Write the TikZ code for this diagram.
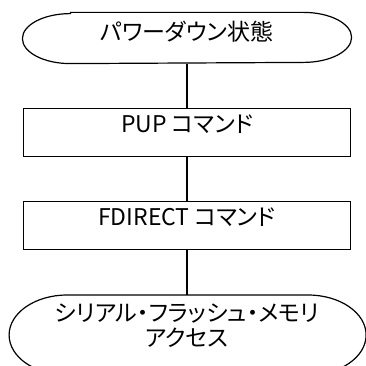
\documentclass[tikz,border=0pt]{standalone}
\usepackage{fontspec}
\setmainfont[RawFeature=+palt]{Noto Sans CJK JP}
\usetikzlibrary{positioning}
\tikzset{
  terminal/.style={rectangle, minimum width=328pt, minimum height=50pt, inner sep=0pt, text height=28pt, text depth=22pt, text centered},
  process/.style={rectangle, minimum width=327pt, minimum height=48pt, inner sep=0pt, text height=24pt, text depth=24pt, text centered, draw=black},
  line/.style={line width=1.2pt}
}

\begin{document}
\begin{tikzpicture}[node distance=44pt, line width=1.2pt, font=\fontsize{23}{25}\selectfont]
\useasboundingbox (0,0) rectangle (366pt,365pt);
\clip (0,0) rectangle (366pt,365pt);
\node (pd) [terminal] at (187pt,327pt) {パワーダウン状態};
\node (pup) [process, below=of pd] {PUP コマンド};
\node (fdir) [process, below=of pup] {FDIRECT コマンド};
\node (sfm) [rectangle, below=45pt of fdir, minimum width=357pt, minimum height=60pt, inner sep=0pt, align=center] {シリアル・フラッシュ・メモリ\\アクセス};

% terminal outlines
\draw ([xshift=48pt]pd.north west) -- ([xshift=-48pt]pd.north east) arc[start angle=90, end angle=-90, x radius=48pt, y radius=25pt] -- ([xshift=48pt]pd.south west) arc[start angle=270, end angle=90, x radius=48pt, y radius=25pt] -- cycle;
\draw ([xshift=58pt]sfm.north west) -- ([xshift=-58pt]sfm.north east) arc[start angle=90, end angle=-90, x radius=58pt, y radius=40pt] -- ++(-241pt,0) arc[start angle=270, end angle=90, x radius=58pt, y radius=40pt] -- cycle;

\draw [line] (pd) -- (pup);
\draw [line] (pup) -- (fdir);
\draw [line] (fdir) -- (sfm);
\end{tikzpicture}
\end{document}
